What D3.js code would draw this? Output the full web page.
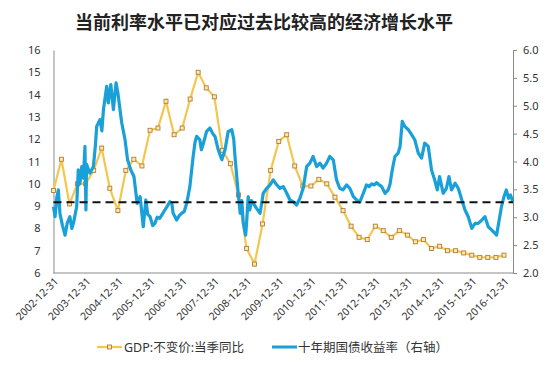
<!DOCTYPE html>
<html><head><meta charset="utf-8">
<script src="https://cdn.jsdelivr.net/npm/d3@7"></script>
<style>
html,body{margin:0;padding:0;background:#fff;}
svg{display:block;}
</style></head>
<body>
<svg id="c" width="550" height="369"></svg>
<script>
const title = "当前利率水平已对应过去比较高的经济增长水平";
const gdpLabel = "GDP:不变价:当季同比";
const yieldLabel = "十年期国债收益率（右轴）";

const gdpDates = ["2002-12-31","2003-03-31","2003-06-30","2003-09-30","2003-12-31","2004-03-31","2004-06-30","2004-09-30","2004-12-31","2005-03-31","2005-06-30","2005-09-30","2005-12-31","2006-03-31","2006-06-30","2006-09-30","2006-12-31","2007-03-31","2007-06-30","2007-09-30","2007-12-31","2008-03-31","2008-06-30","2008-09-30","2008-12-31","2009-03-31","2009-06-30","2009-09-30","2009-12-31","2010-03-31","2010-06-30","2010-09-30","2010-12-31","2011-03-31","2011-06-30","2011-09-30","2011-12-31","2012-03-31","2012-06-30","2012-09-30","2012-12-31","2013-03-31","2013-06-30","2013-09-30","2013-12-31","2014-03-31","2014-06-30","2014-09-30","2014-12-31","2015-03-31","2015-06-30","2015-09-30","2015-12-31","2016-03-31","2016-06-30","2016-09-30","2016-12-31"];
const gdpValues = [9.7,11.1,9.1,10.0,10.0,10.6,11.6,9.8,8.8,10.6,11.1,10.8,12.4,12.5,13.7,12.2,12.5,13.8,15.0,14.3,13.9,11.5,10.9,9.5,7.1,6.4,8.2,10.6,11.9,12.2,10.8,9.9,9.9,10.2,10.0,9.4,8.8,8.1,7.6,7.5,8.1,7.9,7.6,7.9,7.7,7.4,7.5,7.1,7.2,7.0,7.0,6.9,6.8,6.7,6.7,6.7,6.8];

const yieldDates = ["2002-12-31","2003-01-18","2003-02-06","2003-02-24","2003-03-14","2003-04-12","2003-05-11","2003-06-06","2003-07-05","2003-07-27","2003-08-14","2003-09-20","2003-10-08","2003-10-26","2003-11-17","2003-12-05","2003-12-23","2004-01-03","2004-01-10","2004-02-16","2004-03-28","2004-04-20","2004-05-04","2004-06-10","2004-07-02","2004-07-20","2004-08-26","2004-09-13","2004-10-12","2004-11-10","2004-12-10","2004-12-31","2005-01-22","2005-02-13","2005-03-22","2005-04-20","2005-05-26","2005-07-01","2005-08-07","2005-09-09","2005-10-15","2005-11-13","2005-12-05","2005-12-31","2006-01-30","2006-02-24","2006-03-22","2006-04-19","2006-05-18","2006-06-16","2006-07-15","2006-08-13","2006-09-04","2006-09-19","2006-10-29","2006-11-23","2006-12-23","2007-01-22","2007-02-20","2007-03-28","2007-05-04","2007-05-26","2007-06-13","2007-07-19","2007-08-06","2007-08-24","2007-10-04","2007-11-10","2007-12-13","2008-01-07","2008-02-13","2008-03-25","2008-04-30","2008-06-05","2008-07-16","2008-08-07","2008-08-21","2008-09-27","2008-10-19","2008-11-06","2008-11-24","2008-12-20","2008-12-31","2009-01-18","2009-02-05","2009-02-24","2009-03-17","2009-04-23","2009-06-02","2009-07-08","2009-08-17","2009-09-23","2009-10-29","2009-12-08","2010-01-14","2010-02-20","2010-04-01","2010-05-07","2010-06-12","2010-07-22","2010-08-28","2010-10-04","2010-11-13","2010-12-19","2011-01-25","2011-03-06","2011-04-12","2011-05-18","2011-06-27","2011-08-02","2011-09-11","2011-10-18","2011-11-23","2011-12-31","2012-02-09","2012-03-17","2012-04-26","2012-06-01","2012-07-08","2012-08-17","2012-09-22","2012-10-22","2012-11-20","2012-12-16","2013-01-15","2013-02-13","2013-03-14","2013-04-20","2013-05-26","2013-06-17","2013-07-05","2013-07-24","2013-08-11","2013-09-16","2013-10-08","2013-11-02","2013-12-01","2014-01-10","2014-02-16","2014-03-24","2014-05-03","2014-06-09","2014-07-15","2014-08-24","2014-09-30","2014-11-05","2014-12-04","2014-12-31","2015-02-09","2015-03-18","2015-04-16","2015-05-15","2015-06-24","2015-07-31","2015-09-09","2015-10-15","2015-11-21","2015-12-31","2016-02-06","2016-03-13","2016-04-22","2016-05-29","2016-07-05","2016-08-14","2016-09-20","2016-10-08","2016-11-06","2016-12-02","2016-12-31","2017-01-26","2017-02-21","2017-03-14","2017-04-10"];
const yieldValues = [3.19,3.01,3.35,3.49,3.07,2.85,2.68,2.90,3.01,2.80,2.89,3.19,3.85,3.60,3.91,3.70,4.27,3.13,3.95,3.79,3.91,4.30,4.63,4.75,4.55,4.93,5.35,5.05,5.38,4.93,5.41,5.23,4.95,4.69,4.39,4.03,3.85,3.73,3.25,3.37,2.83,3.31,3.05,3.01,2.85,2.89,3.00,2.98,3.05,3.13,3.20,3.28,3.25,3.07,2.95,3.02,3.07,3.10,3.25,3.55,4.09,4.35,4.45,4.39,4.21,4.30,4.54,4.60,4.50,4.45,4.21,4.03,4.21,4.54,4.57,4.40,4.09,3.43,3.07,3.30,2.89,2.68,2.90,3.37,3.13,3.30,3.25,3.16,3.07,3.43,3.52,3.58,3.67,3.58,3.52,3.55,3.43,3.31,3.28,3.22,3.34,3.52,3.91,3.97,4.09,3.91,3.97,3.88,3.97,4.09,4.03,3.67,3.52,3.49,3.58,3.52,3.37,3.31,3.27,3.43,3.58,3.55,3.60,3.58,3.62,3.58,3.55,3.43,3.49,3.60,3.79,3.95,4.09,4.15,4.27,4.72,4.63,4.57,4.48,4.39,4.15,4.06,4.33,4.27,3.85,3.67,3.49,3.73,3.43,3.52,3.73,3.49,3.61,3.52,3.31,3.13,3.01,2.80,2.89,2.89,2.95,3.01,2.83,2.77,2.71,2.68,2.95,3.19,3.37,3.49,3.34,3.40,3.28];

const refLevel = 3.27; // dashed reference, right axis
const xTickLabels = ["2002-12-31","2003-12-31","2004-12-31","2005-12-31","2006-12-31","2007-12-31","2008-12-31","2009-12-31","2010-12-31","2011-12-31","2012-12-31","2013-12-31","2014-12-31","2015-12-31","2016-12-31"];
const leftTicks = [6,7,8,9,10,11,12,13,14,15,16];
const rightTicks = [2.0,2.5,3.0,3.5,4.0,4.5,5.0,5.5,6.0];

const parse = d3.timeParse("%Y-%m-%d");
const svg = d3.select("#c");
const L = 53.5, R = 513, T = 50, B = 273;
const x = d3.scaleTime().domain([parse("2002-12-31"), parse("2017-04-12")]).range([L, R]);
const yL = d3.scaleLinear().domain([6,16]).range([B, T]);
const yR = d3.scaleLinear().domain([2,6]).range([B, T]);
const font = "'Noto Sans', 'Noto Sans CJK SC', sans-serif";

svg.append("text").attr("x", 264).attr("y", 29).attr("text-anchor","middle")
  .attr("font-family","'Noto Sans CJK SC', sans-serif").attr("font-size",18).attr("font-weight","bold")
  .attr("fill","#222").text(title);

// left axis
const gl = svg.append("g").attr("transform",`translate(${L},0)`)
  .call(d3.axisLeft(yL).tickValues(leftTicks).tickSize(0).tickPadding(13).tickFormat(d3.format("d")));
gl.select(".domain").attr("stroke","#8a8a8a");
gl.selectAll("text").attr("font-family",font).attr("font-size",11).attr("fill","#333");

// right axis
const gr = svg.append("g").attr("transform",`translate(${R},0)`)
  .call(d3.axisRight(yR).tickValues(rightTicks).tickSizeInner(4).tickSizeOuter(0).tickPadding(6).tickFormat(d3.format(".1f")));
gr.select(".domain").attr("stroke","#8a8a8a");
gr.selectAll("line").attr("stroke","#8a8a8a");
gr.selectAll("text").attr("font-family",font).attr("font-size",11).attr("fill","#333");

// bottom axis
const tickDates = xTickLabels.map(parse);
const gb = svg.append("g").attr("transform",`translate(0,${B})`)
  .call(d3.axisBottom(x).tickValues(tickDates).tickSize(0).tickFormat(d3.timeFormat("%Y-%m-%d")));
gb.select(".domain").attr("stroke","#8a8a8a").attr("d",`M${L},0H${R}`);
gb.selectAll("text").attr("font-family",font).attr("font-size",10.5).attr("fill","#333")
  .attr("text-anchor","end").attr("dy",0).attr("y",0)
  .attr("transform","translate(5,9) rotate(-45)");

// GDP line (drawn beneath the yield line)
const gData = gdpDates.map((d,i)=>({d:parse(d), v:gdpValues[i]}));
svg.append("path").datum(gData)
  .attr("fill","none").attr("stroke","#f4c64e").attr("stroke-width",2.2)
  .attr("d", d3.line().x(p=>x(p.d)).y(p=>yL(p.v)));
svg.selectAll("rect.gm").data(gData).enter().append("rect").attr("class","gm")
  .attr("x",p=>x(p.d)-2).attr("y",p=>yL(p.v)-2).attr("width",4).attr("height",4)
  .attr("fill","#fbe9b5").attr("stroke","#b47d32").attr("stroke-width",0.9);

// bond yield line
const yData = yieldDates.map((d,i)=>({d:parse(d), v:yieldValues[i]}));
svg.append("path").datum(yData)
  .attr("fill","none").attr("stroke","#1aa0d8").attr("stroke-width",3.2).attr("stroke-linejoin","round")
  .attr("d", d3.line().x(p=>x(p.d)).y(p=>yR(p.v)));

// dashed reference line
svg.append("line").attr("x1",L).attr("x2",R).attr("y1",yR(refLevel)).attr("y2",yR(refLevel))
  .attr("stroke","#111").attr("stroke-width",2).attr("stroke-dasharray","8,5");

// legend
const ly = 347;
svg.append("line").attr("x1",97).attr("x2",122).attr("y1",ly).attr("y2",ly).attr("stroke","#f4c64e").attr("stroke-width",2.2);
svg.append("rect").attr("x",107.5).attr("y",ly-2).attr("width",4).attr("height",4).attr("fill","#fbe9b5").attr("stroke","#b47d32").attr("stroke-width",0.9);
svg.append("text").attr("x",124).attr("y",ly+4.5).attr("font-family",font).attr("font-size",12.5).attr("fill","#333").text(gdpLabel);
svg.append("line").attr("x1",272).attr("x2",297).attr("y1",ly).attr("y2",ly).attr("stroke","#1aa0d8").attr("stroke-width",3);
svg.append("text").attr("x",298).attr("y",ly+4.5).attr("font-family",font).attr("font-size",12.5).attr("fill","#333").text(yieldLabel);
</script>
</body></html>
